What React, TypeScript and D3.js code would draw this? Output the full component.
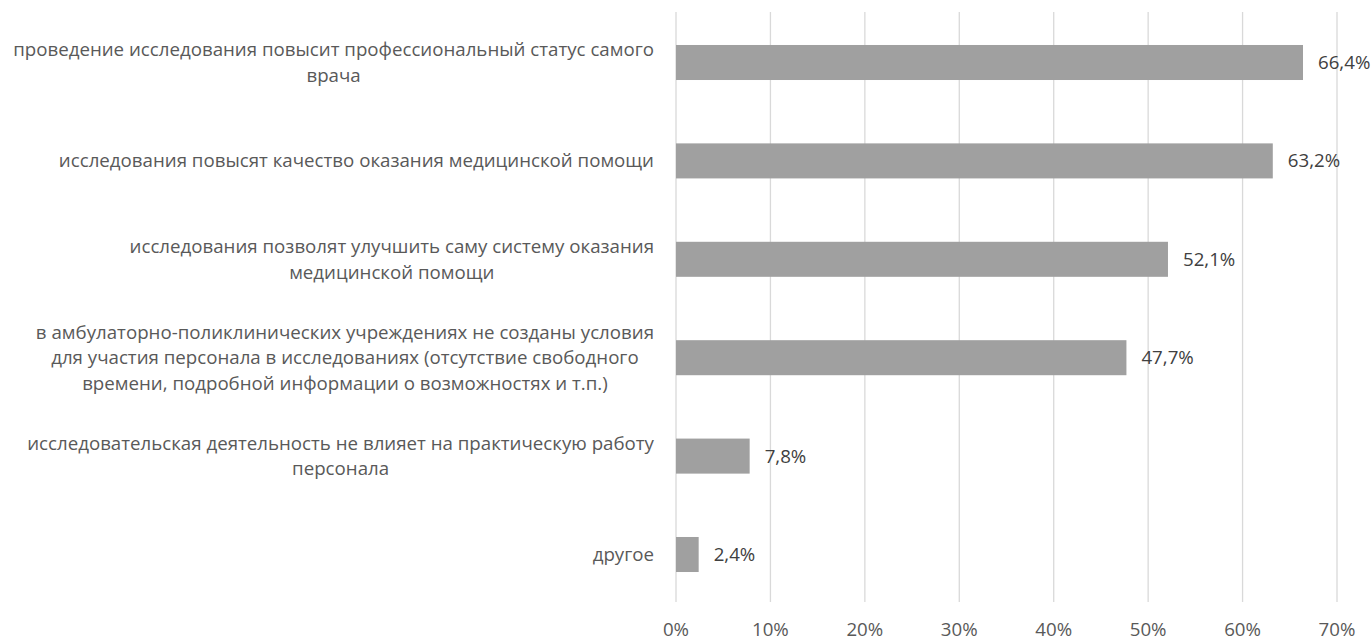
import React from "react";
import * as d3 from "d3";

const categories: string[][] = [
  ["проведение исследования повысит профессиональный статус самого", "врача"],
  ["исследования повысят качество оказания медицинской помощи"],
  ["исследования позволят улучшить саму систему оказания", "медицинской помощи"],
  [
    "в амбулаторно-поликлинических учреждениях не созданы условия",
    "для участия персонала в исследованиях (отсутствие свободного",
    "времени, подробной информации о возможностях и т.п.)",
  ],
  ["исследовательская деятельность не влияет на практическую работу", "персонала"],
  ["другое"],
];
const values: number[] = [66.4, 63.2, 52.1, 47.7, 7.8, 2.4];
const ticks: number[] = [0, 10, 20, 30, 40, 50, 60, 70];

const W = 1372;
const H = 638;
const FONT = "'Open Sans', sans-serif";
const FS = 18.7;

let ctx: CanvasRenderingContext2D | null = null;
function measure(s: string): number {
  if (!ctx && typeof document !== "undefined") {
    ctx = document.createElement("canvas").getContext("2d");
  }
  if (!ctx) return s.length * FS * 0.5;
  ctx.font = `${FS}px 'Open Sans', sans-serif`;
  return ctx.measureText(s).width;
}

export default function App() {
  const x = d3.scaleLinear().domain([0, 70]).range([676, 1337]);
  const ids = categories.map((_, i) => String(i));
  const y = d3.scaleBand().domain(ids).range([13.3, 603.7]).paddingInner(0.644).paddingOuter(0.322);
  const lineH = 25.5;
  const labelX = 654;
  return (
    <svg width={W} height={H} style={{ position: "absolute", left: 0, top: 0, background: "#fff" }}>
      {ticks.map((t) => (
        <line key={t} x1={x(t)} x2={x(t)} y1={12} y2={602} stroke="#d9d9d9" strokeWidth={1.3} />
      ))}
      {ticks.map((t) => (
        <text key={"t" + t} x={x(t)} y={636} textAnchor="middle" fontFamily={FONT} fontSize={FS} fill="#595959">
          {t + "%"}
        </text>
      ))}
      {values.map((v, i) => {
        const yc = (y(String(i)) as number) + y.bandwidth() / 2;
        const lines = categories[i];
        const maxW = d3.max(lines, (l) => measure(l)) as number;
        const cx = labelX - maxW / 2;
        return (
          <g key={i}>
            <rect x={x(0)} y={y(String(i))} width={x(v) - x(0)} height={y.bandwidth()} fill="#a0a0a0" />
            <text x={x(v) + 15} y={yc} dy="0.35em" fontFamily={FONT} fontSize={FS} fill="#404040">
              {d3.format(".1f")(v).replace(".", ",") + "%"}
            </text>
            {lines.map((line, j) => {
              const n = lines.length;
              const ly = yc + (j - (n - 1) / 2) * lineH;
              return (
                <text
                  key={j}
                  x={cx}
                  y={ly}
                  dy="0.35em"
                  textAnchor="middle"
                  fontFamily={FONT}
                  fontSize={FS}
                  fill="#595959"
                >
                  {line}
                </text>
              );
            })}
          </g>
        );
      })}
    </svg>
  );
}
